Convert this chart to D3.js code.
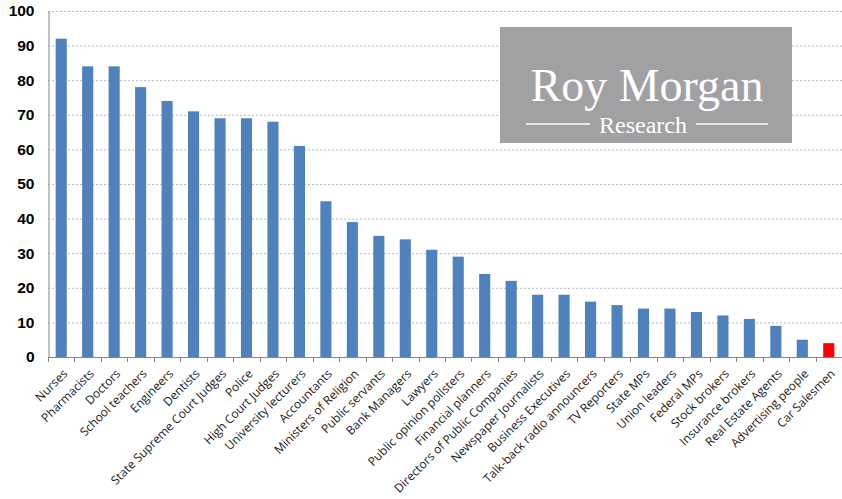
<!DOCTYPE html>
<html><head><meta charset="utf-8">
<script src="https://cdn.jsdelivr.net/npm/d3@7"></script>
<style>body{margin:0;background:#fff}svg{display:block}</style>
</head><body><svg id="c" width="842" height="499"></svg>
<script>
const categories = ["Nurses","Pharmacists","Doctors","School teachers","Engineers","Dentists","State Supreme Court Judges","Police","High Court Judges","University lecturers","Accountants","Ministers of Religion","Public servants","Bank Managers","Lawyers","Public opinion pollsters","Financial planners","Directors of Public Companies","Newspaper Journalists","Business Executives","Talk-back radio announcers","TV Reporters","State MPs","Union leaders","Federal MPs","Stock brokers","Insurance brokers","Real Estate Agents","Advertising people","Car Salesmen"];
const values = [92,84,84,78,74,71,69,69,68,61,45,39,35,34,31,29,24,22,18,18,16,15,14,14,13,12,11,9,5,4];
const highlight = ["Car Salesmen"];
const yTicks = [0,10,20,30,40,50,60,70,80,90,100];

(function(){
const svg = d3.select("#c");
const mLeft = 48, mRight = 842, mTop = 11, mBottom = 357;
const x = d3.scaleBand().domain(categories).range([mLeft, mRight]).paddingInner(0.58).paddingOuter(0.29);
const y = d3.scaleLinear().domain([0,100]).range([mBottom, mTop]);

svg.append("g").selectAll("line").data(yTicks.filter(d=>d>0)).join("line")
  .attr("x1", mLeft).attr("x2", mRight).attr("y1", d=>y(d)+0.5).attr("y2", d=>y(d)+0.5)
  .attr("stroke", "#b8b8b8").attr("stroke-width", 1).attr("stroke-dasharray", "2,2");

svg.append("g").selectAll("rect").data(categories).join("rect")
  .attr("x", d=>x(d)).attr("width", x.bandwidth())
  .attr("y", (d,i)=>y(values[i])).attr("height", (d,i)=>y(0)-y(values[i]))
  .attr("fill", d=>highlight.includes(d) ? "#ff0000" : "#4f81bd");

const ya = svg.append("g").attr("transform", `translate(${mLeft+0.5},0)`)
  .call(d3.axisLeft(y).tickValues(yTicks).tickSize(0).tickPadding(14));
ya.select(".domain").attr("stroke", "#868686");
ya.selectAll("text").attr("font-family", "Liberation Sans, Arial, sans-serif")
  .attr("font-size", 15.5).attr("font-weight", "bold").attr("fill", "#000");

const xa = svg.append("g").attr("transform", `translate(0,${mBottom+0.5})`)
  .call(d3.axisBottom(x).tickSize(0).tickFormat(d=>d));
xa.select(".domain").attr("stroke", "#868686").attr("d", `M${mLeft},0H${mRight}`);
xa.selectAll(".tick line").remove();
const step = x.step();
svg.append("g").selectAll("line").data(d3.range(categories.length+1)).join("line")
  .attr("x1", i=>Math.round(mLeft + i*step)+0.5).attr("x2", i=>Math.round(mLeft + i*step)+0.5)
  .attr("y1", mBottom).attr("y2", mBottom+5).attr("stroke", "#868686");
xa.selectAll(".tick text")
  .attr("font-family", "Open Sans, Calibri, sans-serif").attr("font-size", 12).attr("fill", "#1a1a1a")
  .attr("text-anchor", "end").attr("dy", 0).attr("y", 0)
  .attr("transform", "translate(7,17) rotate(-45)");

const logo = svg.append("g");
logo.append("rect").attr("x", 500).attr("y", 27).attr("width", 292).attr("height", 116).attr("fill", "#a1a1a3");
logo.append("text").attr("x", 647).attr("y", 101).attr("text-anchor", "middle")
  .attr("font-family", "Liberation Serif, Times New Roman, serif").attr("font-size", 46).attr("fill", "#fff").text("Roy Morgan");
logo.append("text").attr("x", 643).attr("y", 133).attr("text-anchor", "middle")
  .attr("font-family", "Liberation Serif, Times New Roman, serif").attr("font-size", 24).attr("fill", "#fff").text("Research");
logo.append("line").attr("x1", 526).attr("x2", 590).attr("y1", 124).attr("y2", 124).attr("stroke", "#fff").attr("stroke-width", 1.5);
logo.append("line").attr("x1", 696).attr("x2", 768).attr("y1", 124).attr("y2", 124).attr("stroke", "#fff").attr("stroke-width", 1.5);
})();
</script></body></html>
